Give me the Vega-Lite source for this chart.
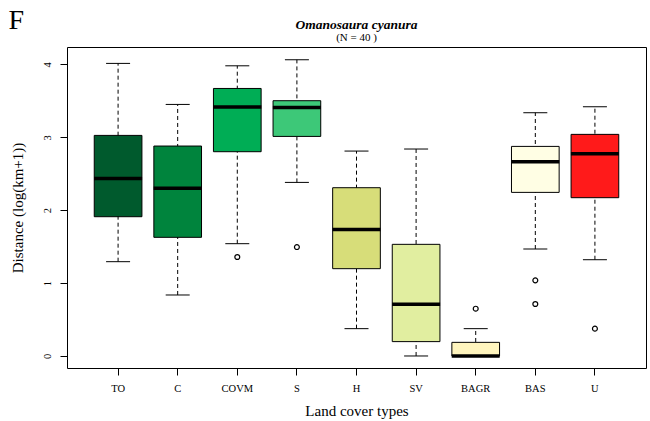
{
  "$schema": "https://vega.github.io/schema/vega-lite/v6.json",
  "width": 579,
  "height": 321,
  "autosize": {"type": "none"},
  "padding": {"left": 67, "top": 47, "right": 4, "bottom": 53},
  "background": "white",
  "title": {
    "text": "Omanosaura cyanura",
    "subtitle": "(N = 40 )",
    "font": "Liberation Serif",
    "fontSize": 13.5,
    "fontStyle": "italic",
    "fontWeight": "bold",
    "color": "black",
    "subtitleFont": "Liberation Serif",
    "subtitleFontSize": 11,
    "subtitleColor": "black",
    "subtitlePadding": 1,
    "anchor": "middle",
    "frame": "group",
    "offset": -37
  },
  "datasets": {
    "boxes": [
      {"type": "TO", "lower": 1.294, "q1": 1.911, "median": 2.437, "q3": 3.027, "upper": 4.015},
      {"type": "C", "lower": 0.837, "q1": 1.628, "median": 2.30, "q3": 2.881, "upper": 3.452},
      {"type": "COVM", "lower": 1.541, "q1": 2.803, "median": 3.416, "q3": 3.671, "upper": 3.982},
      {"type": "S", "lower": 2.382, "q1": 3.013, "median": 3.411, "q3": 3.503, "upper": 4.065},
      {"type": "H", "lower": 0.375, "q1": 1.198, "median": 1.737, "q3": 2.309, "upper": 2.812},
      {"type": "SV", "lower": 0.0, "q1": 0.197, "median": 0.709, "q3": 1.532, "upper": 2.840},
      {"type": "BAGR", "lower": 0.0, "q1": 0.0, "median": 0.0, "q3": 0.187, "upper": 0.375},
      {"type": "BAS", "lower": 1.468, "q1": 2.245, "median": 2.666, "q3": 2.876, "upper": 3.338},
      {"type": "U", "lower": 1.321, "q1": 2.172, "median": 2.775, "q3": 3.041, "upper": 3.42}
    ],
    "outliers": [
      {"type": "COVM", "value": 1.358},
      {"type": "S", "value": 1.495},
      {"type": "BAGR", "value": 0.649},
      {"type": "BAS", "value": 1.038},
      {"type": "BAS", "value": 0.713},
      {"type": "U", "value": 0.375}
    ]
  },
  "layer": [
    {
      "data": {"name": "boxes"},
      "mark": {"type": "rule", "strokeDash": [4, 3], "color": "black", "strokeWidth": 1},
      "encoding": {
        "x": {
          "field": "type", "type": "nominal", "title": "Land cover types",
          "scale": {"type": "band", "domain": ["TO", "C", "COVM", "S", "H", "SV", "BAGR", "BAS", "U"], "paddingInner": 0.2, "paddingOuter": 0.457},
          "axis": {"orient": "bottom", "labelAngle": 0, "labelFontSize": 10.5, "labelPadding": 8, "labelBaseline": "top", "labelColor": "#000000", "tickSize": 7, "titleFontSize": 15, "titlePadding": 10, "domain": false, "ticks": true}
        },
        "y": {
          "field": "lower", "type": "quantitative", "title": "Distance (log(km+1))",
          "scale": {"domain": [-0.165, 4.24], "nice": false, "zero": false},
          "axis": {"values": [0, 1, 2, 3, 4], "format": "d", "labelAngle": 270, "labelAlign": "center", "labelBaseline": "alphabetic", "labelFontSize": 10.5, "labelPadding": 10, "labelColor": "#000000", "tickSize": 7, "titleFontSize": 15, "titlePadding": 16.5, "domain": false, "grid": false}
        },
        "y2": {"field": "upper"}
      }
    },
    {
      "data": {"name": "boxes"},
      "mark": {"type": "bar", "stroke": "black", "strokeWidth": 1},
      "encoding": {
        "x": {"field": "type", "type": "nominal", "axis": null, "title": "Land cover types"},
        "y": {"field": "q1", "type": "quantitative", "title": "Distance (log(km+1))"},
        "y2": {"field": "q3"},
        "color": {
          "field": "type", "type": "nominal", "legend": null,
          "scale": {"domain": ["TO", "C", "COVM", "S", "H", "SV", "BAGR", "BAS", "U"],
                    "range": ["#005A2D", "#00843D", "#00AD55", "#3DC878", "#D7DD79", "#E1EEA0", "#FFF5BE", "#FFFEE4", "#FF1A1A"]}
        }
      }
    },
    {
      "data": {"name": "boxes"},
      "mark": {"type": "tick", "color": "black", "size": 48, "thickness": 3.5, "opacity": 1},
      "encoding": {
        "x": {"field": "type", "type": "nominal", "axis": null, "title": "Land cover types"},
        "y": {"field": "median", "type": "quantitative", "title": "Distance (log(km+1))"}
      }
    },
    {
      "data": {"name": "boxes"},
      "transform": [{"fold": ["lower", "upper"], "as": ["which", "val"]}],
      "mark": {"type": "tick", "color": "black", "size": 24, "thickness": 1, "opacity": 1},
      "encoding": {
        "x": {"field": "type", "type": "nominal", "axis": null, "title": "Land cover types"},
        "y": {"field": "val", "type": "quantitative", "title": "Distance (log(km+1))"}
      }
    },
    {
      "data": {"name": "outliers"},
      "mark": {"type": "point", "shape": "circle", "filled": false, "stroke": "black", "strokeWidth": 1.2, "size": 24, "opacity": 1},
      "encoding": {
        "x": {"field": "type", "type": "nominal", "title": "F",
              "axis": {"orient": "top", "labels": false, "ticks": false, "domain": false, "titleFontSize": 28, "titleFontWeight": "normal", "titleAngle": 0, "titleAlign": "left", "titleBaseline": "alphabetic", "titleX": -59, "titleY": -19}},
        "y": {"field": "value", "type": "quantitative", "title": "Distance (log(km+1))"}
      }
    }
  ],
  "resolve": {"axis": {"x": "independent"}},
  "config": {
    "view": {"stroke": "black", "strokeWidth": 1},
    "font": "Liberation Serif",
    "axis": {"labelFont": "Liberation Serif", "titleFont": "Liberation Serif", "labelColor": "black", "titleColor": "black", "tickColor": "black", "titleFontWeight": "normal", "grid": false}
  }
}
